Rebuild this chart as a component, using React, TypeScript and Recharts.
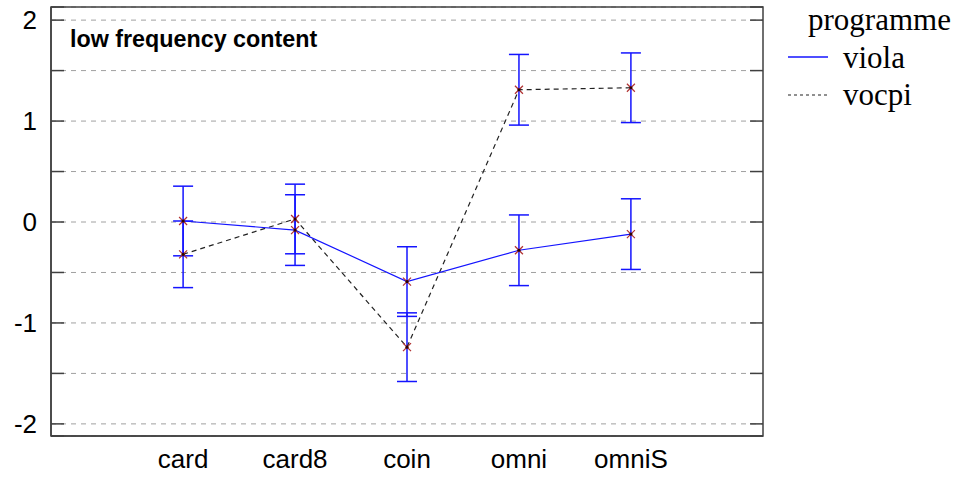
import React from 'react';
import {
  LineChart,
  Line,
  XAxis,
  YAxis,
  CartesianGrid,
  ErrorBar,
  ReferenceArea,
} from 'recharts';

const categories = ['card', 'card8', 'coin', 'omni', 'omniS'];
const violaMeans = [0.01, -0.08, -0.59, -0.28, -0.12];
const violaErrors = [0.345, 0.35, 0.345, 0.35, 0.35];
const vocpiMeans = [-0.32, 0.03, -1.24, 1.31, 1.33];
const vocpiErrors = [0.33, 0.345, 0.34, 0.35, 0.345];
const yTicks = [-2, -1.5, -1, -0.5, 0, 0.5, 1, 1.5, 2];
const yDomain = [-2.12, 2.13];
const xDomain = [-1.18, 5.18];

const data = categories.map((name, i) => ({
  idx: i,
  name,
  viola: violaMeans[i],
  violaErr: violaErrors[i],
  vocpi: vocpiMeans[i],
  vocpiErr: vocpiErrors[i],
}));

const BLUE = '#1414ff';
const AXIS = '#404040';

// small red asterisk used as point marker
const Star = (props: any) => {
  const { cx, cy } = props;
  if (cx == null || cy == null) return null;
  const s = 4;
  return (
    <g>
      <line x1={cx - s} y1={cy - s} x2={cx + s} y2={cy + s} stroke="#b03030" strokeWidth={1.2} />
      <line x1={cx - s} y1={cy + s} x2={cx + s} y2={cy - s} stroke="#b03030" strokeWidth={1.2} />
      <circle cx={cx} cy={cy} r={1.6} fill="#300000" />
    </g>
  );
};

// dashed grid line with short inward ticks on both frame sides
const GridLine = (p: any) => {
  const { x1, x2, y1 } = p;
  return (
    <g key={p.key ?? `g-${p.index}`}>
      <line x1={x1} x2={x2} y1={y1} y2={y1} stroke="#a0a0a0" strokeDasharray="5 5" />
      <line x1={x1} x2={x1 + 13} y1={y1} y2={y1} stroke={AXIS} strokeWidth={1.5} />
      <line x1={x2 - 13} x2={x2} y1={y1} y2={y1} stroke={AXIS} strokeWidth={1.5} />
    </g>
  );
};

const intLabel = (v: number) => (Number.isInteger(v) ? String(v) : '');

export default function App() {
  return (
    <div style={{ position: 'absolute', left: 0, top: 0, width: 965, height: 481, background: '#fff' }}>
      <LineChart
        width={965}
        height={481}
        data={data}
        margin={{ top: 7, right: 202, bottom: 0, left: 0 }}
      >
        <CartesianGrid vertical={false} horizontal={GridLine} />
        <XAxis
          dataKey="idx"
          type="number"
          domain={xDomain}
          ticks={categories.map((_, i) => i)}
          interval={0}
          tickFormatter={(i: number) => categories[i] ?? ''}
          height={45}
          tickLine={false}
          tickSize={0}
          tickMargin={14}
          axisLine={{ stroke: AXIS, strokeWidth: 1.5 }}
          tick={{ fill: '#000', fontSize: 26, fontFamily: 'Liberation Sans, Arial, sans-serif' }}
        />
        <YAxis
          type="number"
          domain={yDomain}
          ticks={yTicks}
          width={51}
          interval={0}
          tickSize={0}
          tickMargin={14}
          tickFormatter={intLabel}
          tickLine={false}
          axisLine={{ stroke: AXIS, strokeWidth: 1.5 }}
          tick={{ fill: '#000', fontSize: 26, fontFamily: 'Liberation Sans, Arial, sans-serif' }}
        />
        <ReferenceArea
          x1={xDomain[0]}
          x2={xDomain[1]}
          y1={yDomain[0]}
          y2={yDomain[1]}
          fill="none"
          fillOpacity={0}
          stroke={AXIS}
          strokeWidth={1.5}
        />
        <Line
          dataKey="vocpi"
          type="linear"
          stroke="#222"
          strokeWidth={1.2}
          strokeDasharray="5 4"
          dot={(p: any) => <Star key={`vo-${p.index}`} {...p} />}
          activeDot={false}
          isAnimationActive={false}
        >
          <ErrorBar dataKey="vocpiErr" direction="y" width={10} stroke={BLUE} strokeWidth={1.5} />
        </Line>
        <Line
          dataKey="viola"
          type="linear"
          stroke={BLUE}
          strokeWidth={1.2}
          dot={(p: any) => <Star key={`vi-${p.index}`} {...p} />}
          activeDot={false}
          isAnimationActive={false}
        >
          <ErrorBar dataKey="violaErr" direction="y" width={10} stroke={BLUE} strokeWidth={1.5} />
        </Line>
      </LineChart>

      <div
        style={{
          position: 'absolute',
          left: 70,
          top: 26,
          fontFamily: 'Liberation Sans, Arial, sans-serif',
          fontWeight: 'bold',
          fontSize: 23.3,
          lineHeight: '27px',
          color: '#000',
          whiteSpace: 'nowrap',
        }}
      >
        low frequency content
      </div>

      <div
        style={{
          position: 'absolute',
          left: 787,
          top: 1,
          fontFamily: 'Liberation Serif, Times New Roman, serif',
          fontSize: 31,
          color: '#000',
          lineHeight: '37.5px',
        }}
      >
        <div style={{ paddingLeft: 21 }}>programme</div>
        <div style={{ display: 'flex', alignItems: 'center' }}>
          <svg width={56} height={20}>
            <line x1={1} y1={10} x2={41} y2={10} stroke={BLUE} strokeWidth={1.5} />
          </svg>
          <span>viola</span>
        </div>
        <div style={{ display: 'flex', alignItems: 'center' }}>
          <svg width={56} height={20}>
            <line x1={1} y1={10} x2={41} y2={10} stroke="#222" strokeWidth={1.2} strokeDasharray="3 3" />
          </svg>
          <span>vocpi</span>
        </div>
      </div>
    </div>
  );
}
